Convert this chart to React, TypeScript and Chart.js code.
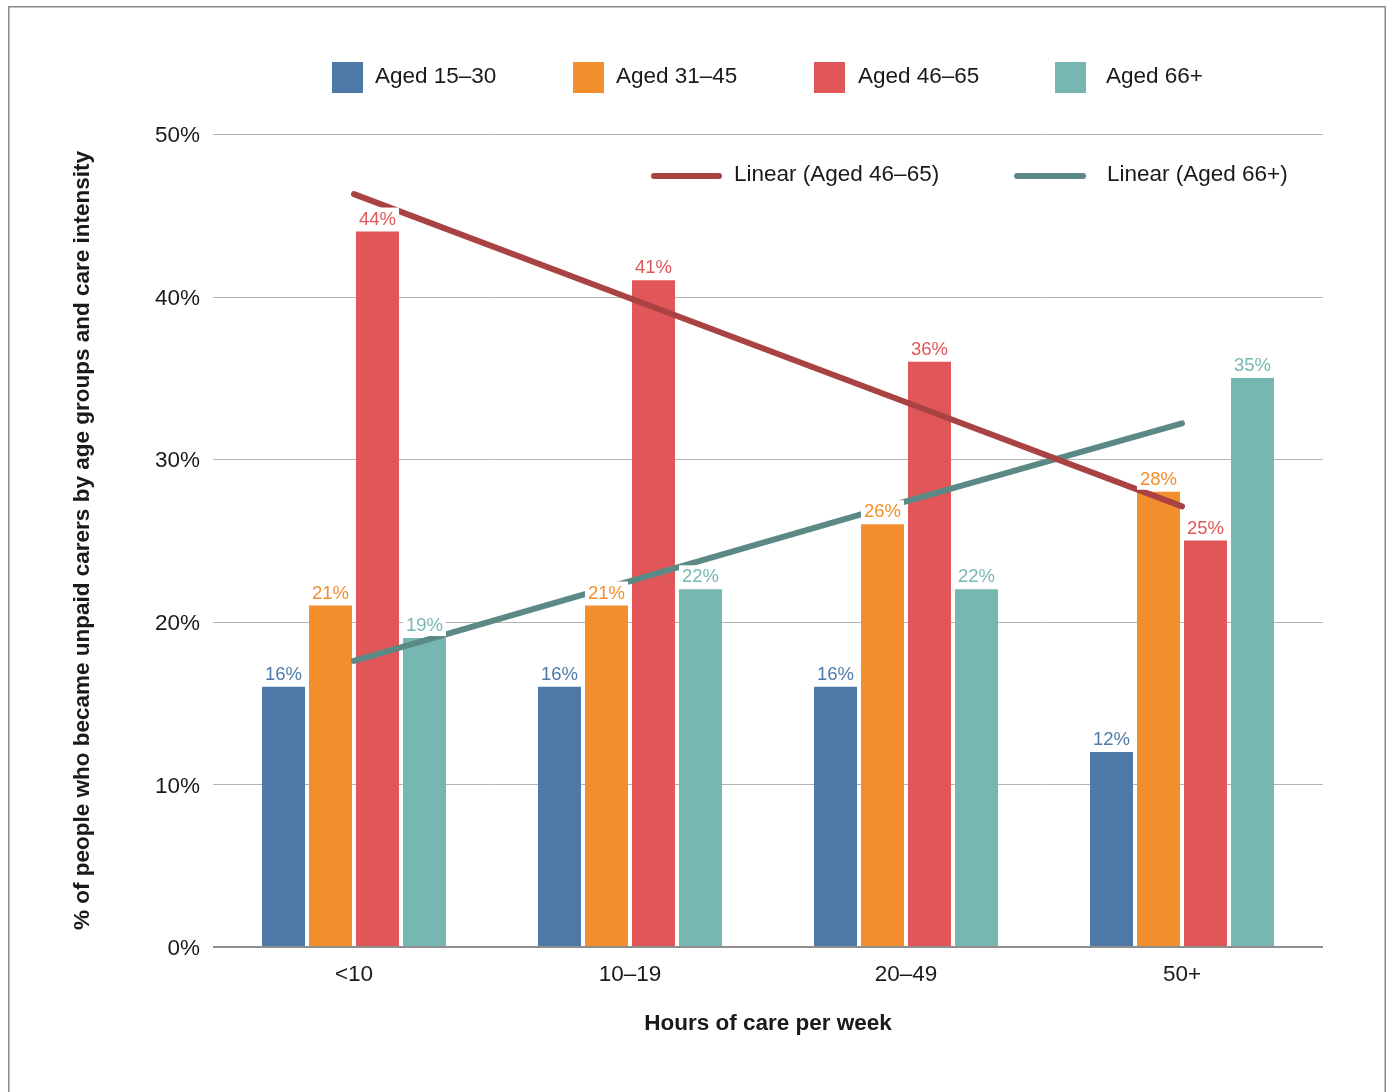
import { useEffect, useRef } from 'react';
import { Chart, registerables } from 'chart.js';

Chart.register(...registerables);

// ---- Data ----
const categories = ['<10', '10–19', '20–49', '50+'];
const seriesLabels = ['Aged 15–30', 'Aged 31–45', 'Aged 46–65', 'Aged 66+'];
const aged15to30 = [16, 16, 16, 12];
const aged31to45 = [21, 21, 26, 28];
const aged46to65 = [44, 41, 36, 25];
const aged66plus = [19, 22, 22, 35];
const trendLabels = ['Linear (Aged 46–65)', 'Linear (Aged 66+)'];
const trend46to65 = [46.3, 39.9, 33.5, 27.1];
const trend66plus = [17.6, 22.5, 27.4, 32.2];
const yTickValues = [0, 10, 20, 30, 40, 50];
const xTitle = 'Hours of care per week';
const yTitle = '% of people who became unpaid carers by age groups and care intensity';

// ---- Styles ----
const FONT = '"Liberation Sans", Arial, Helvetica, sans-serif';
const barColors = ['#4e79a7', '#f28e2b', '#e15759', '#76b7b2'];
const trendColors = ['#a94343', '#5b8a86'];
const TEXT = '#1a1a1a';

const decorPlugin = {
  id: 'decor',
  beforeDraw(chart: any) {
    const ctx = chart.ctx;
    ctx.save();
    ctx.fillStyle = '#ffffff';
    ctx.fillRect(0, 0, chart.width, chart.height);
    ctx.strokeStyle = '#8a8a8a';
    ctx.lineWidth = 1.5;
    ctx.strokeRect(8.75, 6.75, 1376.5, 1200);
    ctx.restore();
  },
  beforeDatasetsDraw(chart: any) {
    const ctx = chart.ctx;
    const { left, right } = chart.chartArea;
    const y = chart.scales.y;
    ctx.save();
    ctx.strokeStyle = '#b4b4b4';
    ctx.lineWidth = 1;
    y.ticks.forEach((t: any) => {
      if (t.value === 0) return;
      const py = Math.round(y.getPixelForValue(t.value)) + 0.5;
      ctx.beginPath();
      ctx.moveTo(left - 3, py);
      ctx.lineTo(right + 3, py);
      ctx.stroke();
    });
    ctx.restore();
  },
  afterDatasetsDraw(chart: any) {
    const ctx = chart.ctx;
    const { left, right } = chart.chartArea;
    const y = chart.scales.y;
    ctx.save();
    // baseline
    ctx.strokeStyle = '#8e8e8e';
    ctx.lineWidth = 2;
    const by = y.getPixelForValue(0);
    ctx.beginPath();
    ctx.moveTo(left - 3, by);
    ctx.lineTo(right + 3, by);
    ctx.stroke();
    // value labels
    ctx.font = `18.5px ${FONT}`;
    ctx.textAlign = 'center';
    ctx.textBaseline = 'alphabetic';
    chart.data.datasets.forEach((ds: any, di: number) => {
      if (ds.type !== 'bar') return;
      const meta = chart.getDatasetMeta(di);
      meta.data.forEach((el: any, i: number) => {
        const text = `${ds.data[i]}%`;
        const w = ctx.measureText(text).width;
        const base = el.y - 7;
        ctx.fillStyle = '#ffffff';
        ctx.fillRect(el.x - w / 2 - 3, base - 17, w + 6, 16 + 6);
        ctx.fillStyle = ds.backgroundColor;
        ctx.fillText(text, el.x, base);
      });
    });
    ctx.restore();
  },
  afterDraw(chart: any) {
    const ctx = chart.ctx;
    ctx.save();
    ctx.font = `22.5px ${FONT}`;
    ctx.textAlign = 'left';
    ctx.textBaseline = 'middle';
    // top legend (bars)
    const boxX = [332, 573, 814, 1055];
    const textX = [375, 616, 858, 1106];
    seriesLabels.forEach((lbl, i) => {
      ctx.fillStyle = barColors[i];
      ctx.fillRect(boxX[i], 62, 31, 31);
      ctx.fillStyle = TEXT;
      ctx.fillText(lbl, textX[i], 77);
    });
    // trend legend
    const lineX = [[654, 719], [1017, 1083]];
    const tX = [734, 1107];
    trendLabels.forEach((lbl, i) => {
      ctx.strokeStyle = trendColors[i];
      ctx.lineWidth = 6;
      ctx.lineCap = 'round';
      ctx.beginPath();
      ctx.moveTo(lineX[i][0], 176);
      ctx.lineTo(lineX[i][1], 176);
      ctx.stroke();
      ctx.fillStyle = TEXT;
      ctx.fillText(lbl, tX[i], 175);
    });
    ctx.restore();
  },
};

export default function App() {
  const ref = useRef<HTMLCanvasElement | null>(null);

  useEffect(() => {
    if (!ref.current) return;
    const barData = [aged15to30, aged31to45, aged46to65, aged66plus];
    const chart = new Chart(ref.current, {
      type: 'bar',
      data: {
        labels: categories,
        datasets: [
          ...barData.map((d, i) => ({
            type: 'bar' as const,
            label: seriesLabels[i],
            data: d,
            backgroundColor: barColors[i],
            borderWidth: 0,
            categoryPercentage: 188 / 276,
            barPercentage: 43 / 47,
            order: 1,
          })),
          {
            type: 'line' as const,
            label: trendLabels[0],
            data: trend46to65,
            borderColor: trendColors[0],
            borderWidth: 6,
            borderCapStyle: 'round',
            pointRadius: 0,
            tension: 0,
            fill: false,
            order: 0,
          },
          {
            type: 'line' as const,
            label: trendLabels[1],
            data: trend66plus,
            borderColor: trendColors[1],
            borderWidth: 6,
            borderCapStyle: 'round',
            pointRadius: 0,
            tension: 0,
            fill: false,
            order: 0,
          },
        ] as any,
      },
      options: {
        responsive: false,
        animation: false,
        devicePixelRatio: 1,
        layout: { padding: { left: 0, top: 134, right: 71, bottom: 0 } },
        plugins: {
          legend: { display: false },
          tooltip: { enabled: false },
          title: { display: false },
        },
        scales: {
          x: {
            grid: { display: false, drawTicks: false },
            border: { display: false },
            ticks: {
              color: TEXT,
              font: { family: FONT, size: 22.5 },
              padding: 14,
              maxRotation: 0,
            },
            title: {
              display: true,
              text: xTitle,
              color: TEXT,
              font: { family: FONT, size: 22.5, weight: 'bold' },
              padding: { top: 0, bottom: 55 },
            },
            afterFit: (scale: any) => {
              scale.height = 145;
            },
          },
          y: {
            min: 0,
            max: 50,
            afterBuildTicks: (scale: any) => {
              scale.ticks = yTickValues.map((v) => ({ value: v }));
            },
            grid: { display: false, drawTicks: false },
            border: { display: false },
            ticks: {
              color: TEXT,
              font: { family: FONT, size: 22.5 },
              padding: 16,
              labelOffset: 2,
              callback: (v: any) => `${v}%`,
            },
            title: {
              display: true,
              text: yTitle,
              color: TEXT,
              font: { family: FONT, size: 22.5, weight: 'bold' },
              padding: { top: 69, bottom: 0 },
            },
            afterFit: (scale: any) => {
              scale.width = 216;
            },
          },
        },
      },
      plugins: [decorPlugin],
    });
    return () => chart.destroy();
  }, []);

  return (
    <div style={{ position: 'absolute', left: 0, top: 0, width: 1391, height: 1092 }}>
      <canvas ref={ref} width={1391} height={1092} style={{ display: 'block', width: 1391, height: 1092 }} />
    </div>
  );
}
